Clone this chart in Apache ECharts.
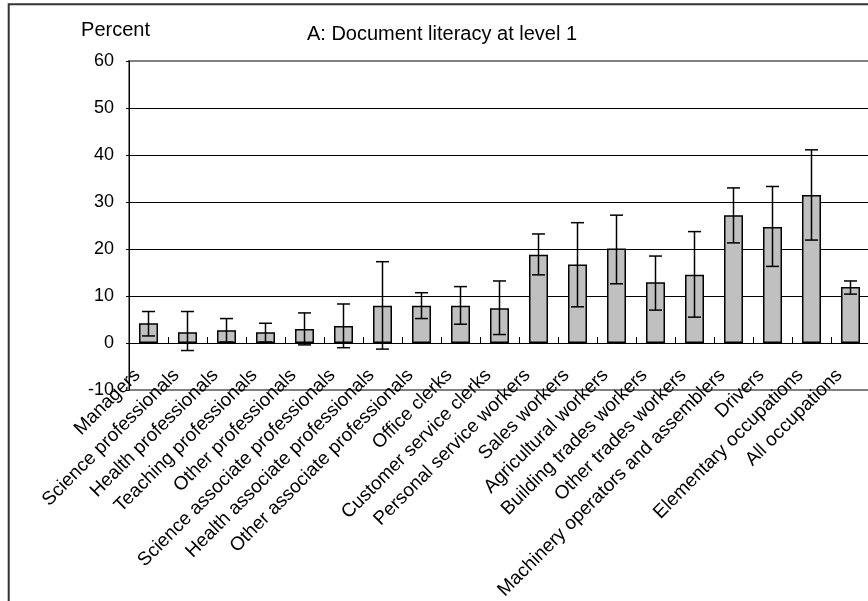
<!DOCTYPE html>
<html>
<head>
<meta charset="utf-8">
<script src="https://cdn.jsdelivr.net/npm/echarts@6/dist/echarts.min.js"></script>
<style>
  html, body { margin: 0; padding: 0; background: #fff; }
  #chart { width: 868px; height: 601px; }
</style>
</head>
<body>
<div id="chart"></div>
<script>
// Occupational groups along the horizontal axis
const categories = [
  'Managers', 'Science professionals', 'Health professionals', 'Teaching professionals',
  'Other professionals', 'Science associate professionals', 'Health associate professionals',
  'Other associate professionals', 'Office clerks', 'Customer service clerks',
  'Personal service workers', 'Sales workers', 'Agricultural workers', 'Building trades workers',
  'Other trades workers', 'Machinery operators and assemblers', 'Drivers',
  'Elementary occupations', 'All occupations'
];

// Share at document literacy level 1 (percent)
const values = [4.2, 2.3, 2.7, 2.3, 3.0, 3.6, 7.9, 7.9, 7.9, 7.4,
                18.8, 16.7, 20.1, 12.9, 14.5, 27.2, 24.7, 31.5, 11.9];

// Confidence interval bounds (percent)
const upper = [6.7, 6.7, 5.2, 4.2, 6.4, 8.3, 17.3, 10.7, 12.0, 13.2,
               23.2, 25.6, 27.2, 18.5, 23.7, 33.0, 33.3, 41.1, 13.2];
const lower = [1.5, -1.6, 0.2, 0.2, -0.4, -1.0, -1.3, 5.2, 4.0, 1.8,
               14.5, 7.7, 12.6, 7.0, 5.5, 21.3, 16.3, 21.9, 10.4];

// Value axis ticks
const yTicks = { min: -10, max: 60, interval: 10 };

const FONT = '"Liberation Sans", Arial, sans-serif';

const chart = echarts.init(document.getElementById('chart'), null, { renderer: 'canvas' });

const errorData = categories.map((c, i) => [i, lower[i], upper[i]]);

chart.setOption({
  animation: false,
  backgroundColor: '#fff',
  grid: {
    left: 129, top: 61, width: 741, height: 329,
    outerBoundsMode: 'none', containLabel: false,
    show: true, borderColor: '#808080', borderWidth: 2, backgroundColor: 'transparent'
  },
  graphic: [
    {
      type: 'rect', silent: true, z: 100,
      shape: { x: 8.7, y: 4.2, width: 900, height: 700 },
      style: { fill: 'none', stroke: '#333', lineWidth: 2 }
    },
    {
      type: 'text', x: 442, y: 34, z: 100,
      style: { text: 'A: Document literacy at level 1', font: '20px ' + FONT,
               fill: '#000', align: 'center', verticalAlign: 'middle' }
    },
    {
      type: 'text', x: 115.5, y: 30, z: 100,
      style: { text: 'Percent', font: '20px ' + FONT,
               fill: '#000', align: 'center', verticalAlign: 'middle' }
    }
  ],
  xAxis: {
    type: 'category',
    data: categories,
    axisLine: { onZero: true, lineStyle: { color: '#000', width: 1 } },
    axisTick: { show: true, inside: true, length: 6, interval: 0, lineStyle: { color: '#000' } },
    axisLabel: {
      interval: 0, rotate: 45, margin: -29, padding: [0, 16, 0, 0],
      fontFamily: FONT, fontSize: 19, color: '#000'
    },
    splitLine: { show: false }
  },
  yAxis: {
    type: 'value',
    min: yTicks.min, max: yTicks.max, interval: yTicks.interval,
    axisLine: { show: true, onZero: false, lineStyle: { color: '#000', width: 1 } },
    axisTick: { show: true, length: 3, lineStyle: { color: '#000' } },
    axisLabel: { fontFamily: FONT, fontSize: 18, color: '#000', margin: 15 },
    splitLine: {
      show: true, showMinLine: false, showMaxLine: false,
      lineStyle: { color: '#000', width: 1 }
    }
  },
  series: [
    {
      type: 'bar',
      data: values,
      barWidth: 19,
      itemStyle: { color: '#c0c0c0', borderColor: '#000', borderWidth: 1.5 },
      z: 2
    },
    {
      type: 'custom',
      data: errorData,
      z: 3,
      renderItem: function (params, api) {
        const x = api.value(0);
        const lo = api.coord([x, api.value(1)]);
        const hi = api.coord([x, api.value(2)]);
        const hw = 6.5;
        const st = { stroke: '#000', lineWidth: 1.5 };
        return {
          type: 'group',
          children: [
            { type: 'line', shape: { x1: lo[0], y1: lo[1], x2: hi[0], y2: hi[1] }, style: st },
            { type: 'line', shape: { x1: hi[0] - hw, y1: hi[1], x2: hi[0] + hw, y2: hi[1] }, style: st },
            { type: 'line', shape: { x1: lo[0] - hw, y1: lo[1], x2: lo[0] + hw, y2: lo[1] }, style: st }
          ]
        };
      }
    }
  ]
});
</script>
</body>
</html>
